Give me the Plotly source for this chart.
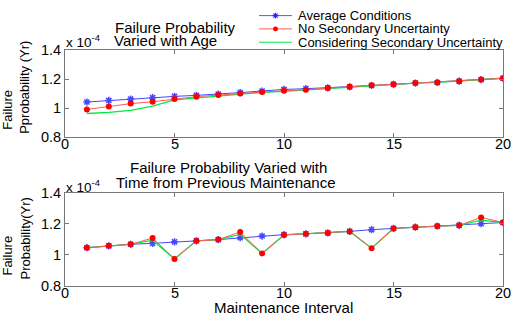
import plotly.graph_objects as go

W, H = 512, 322

# ---- data (values in units of 1e-4 per year) ----
age = list(range(1, 21))
age_avg = [1.043, 1.054, 1.064, 1.073, 1.082, 1.089, 1.097, 1.108, 1.119, 1.130,
           1.135, 1.141, 1.148, 1.157, 1.165, 1.174, 1.178, 1.187, 1.197, 1.207]
age_nosec = [0.992, 1.012, 1.032, 1.045, 1.064, 1.080, 1.091, 1.102, 1.113, 1.121,
             1.128, 1.139, 1.148, 1.159, 1.165, 1.174, 1.178, 1.187, 1.198, 1.207]
age_sec = [0.964, 0.972, 0.986, 1.014, 1.058, 1.071, 1.084, 1.097, 1.110, 1.117,
           1.126, 1.138, 1.148, 1.158, 1.165, 1.174, 1.178, 1.187, 1.198, 1.207]

interval = list(range(1, 21))
int_avg = [1.046, 1.058, 1.068, 1.074, 1.084, 1.090, 1.098, 1.110, 1.121, 1.130,
           1.135, 1.141, 1.151, 1.162, 1.170, 1.178, 1.184, 1.190, 1.200, 1.208]
int_nosec = [1.046, 1.058, 1.068, 1.108, 0.974, 1.090, 1.098, 1.147, 1.009, 1.128,
             1.135, 1.141, 1.151, 1.043, 1.170, 1.178, 1.186, 1.190, 1.241, 1.208]
int_sec = [1.046, 1.058, 1.068, 1.094, 0.974, 1.090, 1.098, 1.131, 1.009, 1.128,
           1.135, 1.141, 1.151, 1.043, 1.170, 1.178, 1.183, 1.190, 1.223, 1.208]

yticks = [0.8, 1.0, 1.2, 1.4]
yticklabels = ["0.8", "1", "1.2", "1.4"]
xticks = [0, 5, 10, 15, 20]
xticklabels = ["0", "5", "10", "15", "20"]

names = ["Average Conditions", "No Secondary Uncertainty", "Considering Secondary Uncertainty"]

BLUE = "rgb(70,70,255)"
RED = "rgb(255,90,90)"
GREEN = "rgb(0,235,70)"
FONT = "Liberation Sans, Arial, sans-serif"


def px(x):
    return x / W


def py(y):
    return 1 - y / H


fig = go.Figure()

for xa, ya, xs, avg, nos, sec in [("x", "y", age, age_avg, age_nosec, age_sec),
                                  ("x2", "y2", interval, int_avg, int_nosec, int_sec)]:
    fig.add_trace(go.Scatter(x=xs, y=avg, xaxis=xa, yaxis=ya, mode="lines+markers",
                             line=dict(color=BLUE, width=1),
                             marker=dict(symbol="asterisk-open", size=6,
                                         line=dict(color="rgb(40,40,255)", width=1.5)),
                             showlegend=False))
    fig.add_trace(go.Scatter(x=xs, y=sec, xaxis=xa, yaxis=ya, mode="lines",
                             line=dict(color=GREEN, width=1.3), showlegend=False))
    fig.add_trace(go.Scatter(x=xs, y=nos, xaxis=xa, yaxis=ya, mode="lines+markers",
                             line=dict(color=RED, width=1),
                             marker=dict(symbol="circle", size=6, color="rgb(255,0,0)"),
                             showlegend=False))

axis_common = dict(showgrid=False, zeroline=False, showline=True, mirror="ticks",
                   linecolor="rgb(120,120,120)", linewidth=1, ticks="inside", ticklen=4,
                   tickcolor="rgb(120,120,120)", tickfont=dict(family=FONT, size=14.5, color="black"))

XB1, XB2 = 136, 292.5  # bottom edges (px) of top / bottom axes
xd = [px(65), px(503)]
fig.update_layout(
    width=W, height=H, margin=dict(l=0, r=0, t=0, b=0),
    paper_bgcolor="white", plot_bgcolor="white", showlegend=False,
    xaxis=dict(domain=xd, range=[0, 20], tickvals=xticks, showticklabels=False,
               anchor="y", **axis_common),
    yaxis=dict(domain=[py(XB1), py(44.5)], range=[0.8, 1.4], tickvals=yticks,
               ticktext=yticklabels, anchor="x", **axis_common),
    xaxis2=dict(domain=xd, range=[0, 20], tickvals=xticks, showticklabels=False,
                anchor="y2", **axis_common),
    yaxis2=dict(domain=[py(XB2), py(194.3)], range=[0.8, 1.4], tickvals=yticks,
                ticktext=yticklabels, anchor="x2", **axis_common),
)

ann = []


def text(t, x, y, size, xanchor="center", angle=0):
    ann.append(dict(text=t, x=px(x), y=py(y), xref="paper", yref="paper", showarrow=False,
                    xanchor=xanchor, yanchor="middle", textangle=angle,
                    font=dict(family=FONT, size=size, color="black")))


# x tick labels placed on the x axes' own scale
for xref, yb in [("x", XB1), ("x2", XB2)]:
    for v, lab in zip(xticks, xticklabels):
        ann.append(dict(text=lab, x=v, xref=xref, y=py(yb + 7.5), yref="paper",
                        showarrow=False, xanchor="center", yanchor="middle",
                        font=dict(family=FONT, size=14.5, color="black")))

# titles
text("Failure Probability", 113, 20, 15, "left")
text("Varied with Age", 112, 34.5, 15, "left")
text("Failure Probability Varied with", 228, 168, 15)
text("Time from Previous Maintenance", 225.5, 184, 15)
text("Maintenance Interval", 283, 315, 15)
# exponent labels
text("x 10<sup>-4</sup>", 64, 35, 13.5, "left")
text("x 10<sup>-4</sup>", 64, 187, 13.5, "left")
# y axis titles
text("Failure", 8, 107, 13, angle=-90)
text("Pprobability (Yr)", 25, 84, 13, angle=-90)
text("Failure", 8, 260.5, 13, angle=-90)
text("Probability(Yr)", 25, 242.5, 13, angle=-90)

# legend (manual, to match compact row spacing)
shapes = []
rows = [8, 22, 36]
cols = ["rgb(90,90,255)", RED, GREEN]
for i, (nm, yy, c) in enumerate(zip(names, rows, cols)):
    shapes.append(dict(type="line", xref="paper", yref="paper", x0=px(259), x1=px(292),
                       y0=py(yy), y1=py(yy), line=dict(color=c, width=1)))
    text(nm, 296, yy, 13, "left")
cx = 275.5
# blue asterisk symbol
r = 3
for dx, dy in [(r, 0), (0, r), (r * 0.7, r * 0.7), (r * 0.7, -r * 0.7)]:
    shapes.append(dict(type="line", xref="paper", yref="paper",
                       x0=px(cx - dx), x1=px(cx + dx), y0=py(rows[0] - dy), y1=py(rows[0] + dy),
                       line=dict(color="rgb(40,40,255)", width=1.3)))
# red dot symbol
shapes.append(dict(type="circle", xref="paper", yref="paper",
                   x0=px(cx - 2.5), x1=px(cx + 2.5), y0=py(rows[1] + 2.5), y1=py(rows[1] - 2.5),
                   fillcolor="rgb(255,0,0)", line=dict(width=0)))

fig.update_layout(annotations=ann, shapes=shapes)

fig.write_html("out.html", config={"displayModeBar": False},
               post_script="document.body.style.margin='0px';")
